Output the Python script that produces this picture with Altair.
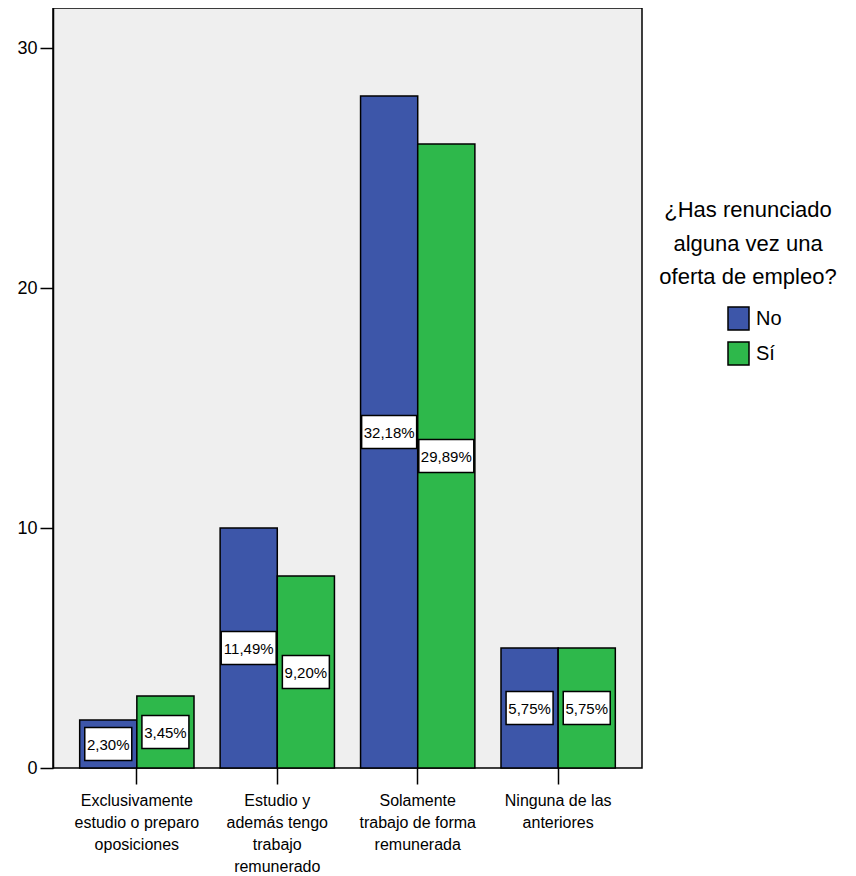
import altair as alt
import pandas as pd

categories = [
    "Exclusivamente|estudio o preparo|oposiciones",
    "Estudio y|además tengo|trabajo|remunerado",
    "Solamente|trabajo de forma|remunerada",
    "Ninguna de las|anteriores",
]
groups = ["No", "Sí"]
no_counts = [2, 10, 28, 5]
si_counts = [3, 8, 26, 5]
no_labels = ["2,30%", "11,49%", "32,18%", "5,75%"]
si_labels = ["3,45%", "9,20%", "29,89%", "5,75%"]
y_ticks = [0, 10, 20, 30]
legend_title = ["¿Has renunciado", "alguna vez una", "oferta de empleo?"]

rows = []
for c, n, s, nl, sl in zip(categories, no_counts, si_counts, no_labels, si_labels):
    rows.append({"cat": c, "grp": "No", "count": n, "label": nl})
    rows.append({"cat": c, "grp": "Sí", "count": s, "label": sl})
df = pd.DataFrame(rows)

FONT = "Liberation Sans"

x_enc = alt.X(
    "cat:N", sort=categories, title=None,
    scale=alt.Scale(paddingInner=0.186, paddingOuter=0.19),
    axis=alt.Axis(
        labelExpr="split(datum.label, '|')", labelAngle=0, labelFontSize=16,
        labelLineHeight=22, labelPadding=8, labelColor="black", labelFont=FONT,
        tickSize=16, tickColor="black", tickWidth=1.5, domain=False,
        labelBaseline="top",
    ),
)
xoff_enc = alt.XOffset("grp:N", sort=groups, scale=alt.Scale(paddingInner=0, paddingOuter=0))
y_enc = alt.Y(
    "count:Q", title=None,
    scale=alt.Scale(domain=[0, 31.67], nice=False, zero=True),
    axis=alt.Axis(
        values=y_ticks, grid=False, labelFontSize=18, labelColor="black", labelFont=FONT,
        tickSize=13, tickColor="black", tickWidth=1.5, labelPadding=3,
        domainColor="black", domainWidth=1.5, minExtent=45, maxExtent=45,
    ),
)
color_enc = alt.Color(
    "grp:N", sort=groups,
    scale=alt.Scale(domain=groups, range=["#3D56A9", "#2EB84B"]),
    legend=alt.Legend(
        title=None, orient="none", legendX=674, legendY=299,
        symbolType="M-1,-1.1H1V1.1H-1Z", symbolSize=441, symbolStrokeColor="black",
        symbolStrokeWidth=1.5, symbolOpacity=1, labelFontSize=20, labelFont=FONT,
        labelColor="black", labelOffset=6, rowPadding=4,
    ),
)

bars = alt.Chart(df).mark_bar(stroke="black", strokeWidth=1.5, opacity=1).encode(
    x=x_enc, xOffset=xoff_enc, y=y_enc, color=color_enc
)

lab = alt.Chart(df).transform_calculate(mid="datum.count / 2", n="length(datum.label)")

box_short = lab.transform_filter("datum.n <= 5").mark_point(
    shape="M-1,-0.702H1V0.702H-1Z", size=2209, filled=True, fill="white",
    stroke="black", strokeWidth=1.5, opacity=1,
).encode(x=alt.X("cat:N", sort=categories), xOffset=alt.XOffset("grp:N", sort=groups), y="mid:Q")

box_long = lab.transform_filter("datum.n > 5").mark_point(
    shape="M-1,-0.6H1V0.6H-1Z", size=3025, filled=True, fill="white",
    stroke="black", strokeWidth=1.5, opacity=1,
).encode(x=alt.X("cat:N", sort=categories), xOffset=alt.XOffset("grp:N", sort=groups), y="mid:Q")

texts = lab.mark_text(fontSize=15, font=FONT, color="black", baseline="middle", dy=1).encode(
    x=alt.X("cat:N", sort=categories), xOffset=alt.XOffset("grp:N", sort=groups),
    y="mid:Q", text="label:N",
)

title_txt = alt.Chart(pd.DataFrame({"a": [0]})).mark_text(
    text=legend_title, fontSize=22, font=FONT, color="black", align="center",
    baseline="alphabetic", lineHeight=33.5,
).encode(x=alt.value(695), y=alt.value(209))

chart = alt.layer(bars, box_short, box_long, texts, title_txt).properties(
    width=589, height=760, padding={"left": 0, "top": 0, "right": 0, "bottom": 0},
    background="white",
).configure_view(stroke="black", strokeWidth=1.5, fill="#EFEFEF")

chart.save("out.html", embed_options={"renderer": "svg", "actions": False})
